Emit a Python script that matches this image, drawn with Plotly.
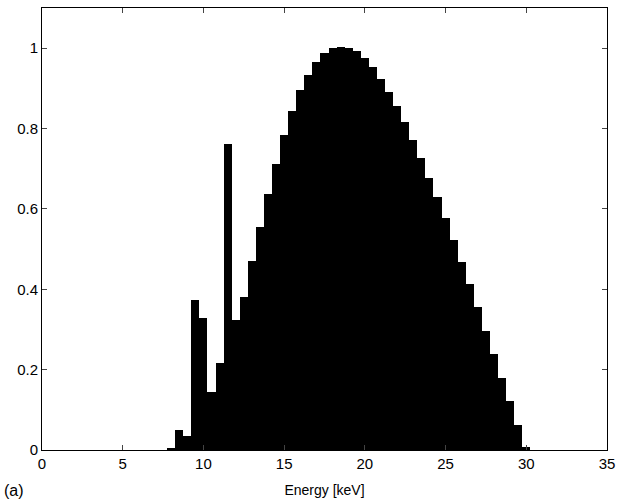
import plotly.graph_objects as go

# bin centres (keV), 0.5 keV bins
energy = [8.0, 8.5, 9.0, 9.5, 10.0, 10.5, 11.0, 11.5, 12.0, 12.5, 13.0, 13.5,
          14.0, 14.5, 15.0, 15.5, 16.0, 16.5, 17.0, 17.5, 18.0, 18.5, 19.0, 19.5,
          20.0, 20.5, 21.0, 21.5, 22.0, 22.5, 23.0, 23.5, 24.0, 24.5, 25.0, 25.5,
          26.0, 26.5, 27.0, 27.5, 28.0, 28.5, 29.0, 29.5, 30.0]
intensity = [0.004, 0.05, 0.035, 0.374, 0.328, 0.144, 0.216, 0.762, 0.324, 0.382, 0.471, 0.556,
             0.638, 0.713, 0.785, 0.843, 0.895, 0.933, 0.966, 0.988, 1.0, 1.004, 1.0, 0.994,
             0.976, 0.954, 0.924, 0.891, 0.856, 0.817, 0.772, 0.727, 0.677, 0.630, 0.577, 0.523,
             0.469, 0.413, 0.356, 0.297, 0.239, 0.180, 0.123, 0.061, 0.008]
x_ticks = [0, 5, 10, 15, 20, 25, 30, 35]
y_ticks = [0, 0.2, 0.4, 0.6, 0.8, 1.0]
y_tick_labels = ["0", "0.2", "0.4", "0.6", "0.8", "1"]

W, H = 628, 504
L, R, T, B = 42, 21, 8, 54

fig = go.Figure(go.Bar(
    x=energy, y=intensity, width=0.5,
    marker=dict(color="black", line=dict(width=0)),
))

font = dict(family="Liberation Sans, Arial, sans-serif", size=15, color="black")
fig.update_layout(
    width=W, height=H,
    margin=dict(l=L, r=R, t=T, b=B, autoexpand=False),
    plot_bgcolor="white", paper_bgcolor="white",
    bargap=0, showlegend=False, font=font,
    xaxis=dict(range=[0, 35], tickvals=x_ticks, ticks="inside", ticklen=5,
               showline=True, linecolor="black", linewidth=1, mirror="ticks",
               showgrid=False, zeroline=False, tickfont=font, automargin=False,
               title=dict(text="Energy [keV]", font=dict(family=font["family"], size=14), standoff=14)),
    yaxis=dict(range=[0, 1.1], tickvals=y_ticks, ticktext=y_tick_labels, ticks="inside", ticklen=5,
               showline=True, linecolor="black", linewidth=1, mirror="ticks",
               showgrid=False, zeroline=False, tickfont=font, automargin=False),
    annotations=[dict(text="(a)", xref="paper", yref="paper",
                      x=(2 - L) / (W - L - R), y=(H - B - 480) / (H - T - B),
                      xanchor="left", yanchor="top", showarrow=False,
                      font=dict(family=font["family"], size=16, color="black"))],
)

fig.write_html("out.html", config={"displayModeBar": False},
               post_script="document.body.style.margin='0';")
